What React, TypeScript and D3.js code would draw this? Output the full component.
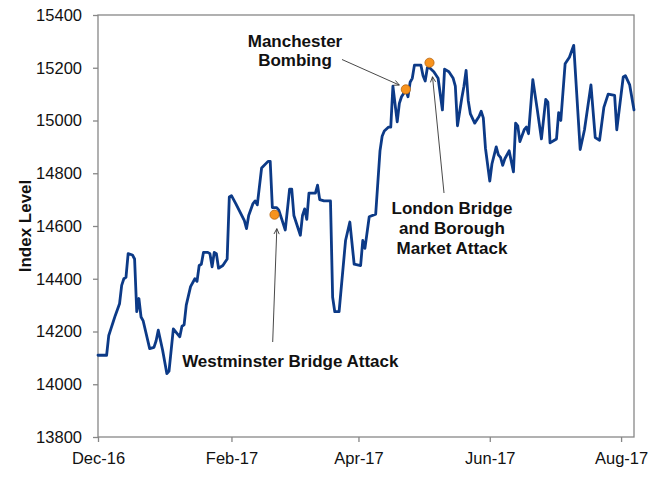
import { useEffect, useRef } from "react";
import * as d3 from "d3";

// index level (calendar days, gaps = straight segments)
const dates = [
  "2016-12-01", "2016-12-05", "2016-12-06", "2016-12-07", "2016-12-08", "2016-12-09", "2016-12-11", "2016-12-12",
  "2016-12-13", "2016-12-14", "2016-12-15", "2016-12-17", "2016-12-18", "2016-12-19", "2016-12-20", "2016-12-21",
  "2016-12-22", "2016-12-25", "2016-12-27", "2016-12-28", "2016-12-29", "2016-12-31", "2017-01-02", "2017-01-03",
  "2017-01-05", "2017-01-08", "2017-01-09", "2017-01-10", "2017-01-11", "2017-01-13", "2017-01-15", "2017-01-16",
  "2017-01-17", "2017-01-18", "2017-01-19", "2017-01-21", "2017-01-22", "2017-01-23", "2017-01-24", "2017-01-25",
  "2017-01-26", "2017-01-28", "2017-01-30", "2017-01-31", "2017-02-01", "2017-02-03", "2017-02-07", "2017-02-08",
  "2017-02-09", "2017-02-11", "2017-02-12", "2017-02-13", "2017-02-14", "2017-02-15", "2017-02-18", "2017-02-19",
  "2017-02-20", "2017-02-22", "2017-02-23", "2017-02-26", "2017-02-28", "2017-03-01", "2017-03-02", "2017-03-05",
  "2017-03-06", "2017-03-07", "2017-03-08", "2017-03-09", "2017-03-12", "2017-03-13", "2017-03-14", "2017-03-16",
  "2017-03-19", "2017-03-20", "2017-03-21", "2017-03-23", "2017-03-26", "2017-03-28", "2017-03-30", "2017-04-02",
  "2017-04-03", "2017-04-04", "2017-04-06", "2017-04-09", "2017-04-10", "2017-04-11", "2017-04-12", "2017-04-13",
  "2017-04-15", "2017-04-16", "2017-04-17", "2017-04-19", "2017-04-20", "2017-04-21", "2017-04-23", "2017-04-24",
  "2017-04-25", "2017-04-26", "2017-04-27", "2017-04-30", "2017-05-01", "2017-05-02", "2017-05-03", "2017-05-04",
  "2017-05-06", "2017-05-08", "2017-05-10", "2017-05-11", "2017-05-13", "2017-05-15", "2017-05-16", "2017-05-17",
  "2017-05-19", "2017-05-20", "2017-05-21", "2017-05-22", "2017-05-23", "2017-05-25", "2017-05-27", "2017-05-28",
  "2017-05-29", "2017-05-30", "2017-06-01", "2017-06-02", "2017-06-04", "2017-06-05", "2017-06-06", "2017-06-07",
  "2017-06-08", "2017-06-10", "2017-06-12", "2017-06-13", "2017-06-14", "2017-06-15", "2017-06-17", "2017-06-18",
  "2017-06-19", "2017-06-21", "2017-06-23", "2017-06-25", "2017-06-27", "2017-06-28", "2017-06-29", "2017-07-01",
  "2017-07-02", "2017-07-03", "2017-07-04", "2017-07-06", "2017-07-08", "2017-07-10", "2017-07-13", "2017-07-15",
  "2017-07-18", "2017-07-20", "2017-07-22", "2017-07-24", "2017-07-26", "2017-07-29", "2017-07-30", "2017-08-02",
  "2017-08-03", "2017-08-05", "2017-08-07",
];
const index = [
  14110, 14110, 14185, 14210, 14235, 14260, 14305, 14375,
  14400, 14405, 14495, 14490, 14475, 14275, 14325, 14255,
  14240, 14135, 14140, 14165, 14205, 14130, 14040, 14050,
  14210, 14180, 14220, 14225, 14300, 14370, 14400, 14390,
  14450, 14455, 14500, 14500, 14495, 14445, 14500, 14495,
  14440, 14450, 14475, 14710, 14715, 14685, 14620, 14590,
  14640, 14685, 14695, 14680, 14750, 14820, 14845, 14845,
  14670, 14670, 14660, 14585, 14740, 14740, 14640, 14565,
  14640, 14665, 14625, 14725, 14725, 14755, 14700, 14695,
  14695, 14330, 14275, 14275, 14545, 14615, 14455, 14450,
  14545, 14515, 14635, 14645, 14765, 14885, 14940, 14960,
  14975, 14975, 15130, 14995, 15065, 15090, 15115, 15090,
  15145, 15160, 15210, 15210, 15170, 15150, 15200, 15200,
  15185, 15160, 15040, 15195, 15185, 15160, 15130, 14980,
  15085, 15130, 15190, 15075, 15025, 14990, 15015, 15035,
  15010, 14895, 14770, 14835, 14900, 14870, 14860, 14830,
  14855, 14885, 14805, 14990, 14980, 14920, 14965, 14975,
  14950, 15155, 15045, 14930, 15080, 15070, 14915, 14925,
  14930, 15030, 15000, 15215, 15240, 15285, 14890, 14965,
  15135, 14935, 14925, 15050, 15100, 15095, 14965, 15165,
  15170, 15135, 15040,
];

const xDomain = ["2016-12-01", "2017-08-07"];
const xTickDates = ["2016-12-01", "2017-02-01", "2017-04-01", "2017-06-01", "2017-08-01"];
const xTickLabels = ["Dec-16", "Feb-17", "Apr-17", "Jun-17", "Aug-17"];
const yTicks = [13800, 14000, 14200, 14400, 14600, 14800, 15000, 15200, 15400];

// marked events
const eventLabels = [
  ["Westminster Bridge Attack"],
  ["Manchester", "Bombing"],
  ["London Bridge", "and Borough", "Market Attack"],
];
const eventDates = ["2017-02-21", "2017-04-23", "2017-05-04"];
const eventValues = [14643, 15118, 15219];

const FONT = "'Liberation Sans', Arial, Helvetica, sans-serif";

export default function App() {
  const ref = useRef<SVGSVGElement>(null);

  useEffect(() => {
    const el = ref.current;
    if (!el) return;
    const W = 650, H = 483, M = { top: 15, right: 16, bottom: 46, left: 98 };
    const svg = d3.select(el);
    svg.selectAll("*").remove();

    const parse = d3.timeParse("%Y-%m-%d");
    const x = d3.scaleTime().domain(xDomain.map((d) => parse(d)!)).range([M.left, W - M.right]);
    const y = d3.scaleLinear().domain([yTicks[0], yTicks[yTicks.length - 1]]).range([H - M.bottom, M.top]);
    const axisColor = "#878787";

    // frame
    svg.append("rect")
      .attr("x", M.left).attr("y", M.top).attr("width", W - M.left - M.right).attr("height", H - M.top - M.bottom)
      .attr("fill", "none").attr("stroke", axisColor).attr("stroke-width", 1.3);

    // y axis
    const gy = svg.append("g").attr("transform", `translate(${M.left},0)`)
      .call(d3.axisLeft(y).tickValues(yTicks).tickSize(5).tickPadding(11).tickFormat((d) => String(d)));
    gy.select(".domain").remove();
    gy.selectAll("line").attr("stroke", axisColor).attr("stroke-width", 1.3);
    gy.selectAll("text").attr("font-family", FONT).attr("font-size", 16.5).attr("fill", "#111");

    // x axis
    const tickDates = xTickDates.map((d) => parse(d)!);
    const gx = svg.append("g").attr("transform", `translate(0,${H - M.bottom})`)
      .call(d3.axisBottom(x).tickValues(tickDates).tickSize(5).tickPadding(10)
        .tickFormat((_d, i) => xTickLabels[i]));
    gx.select(".domain").remove();
    gx.selectAll("line").attr("stroke", axisColor).attr("stroke-width", 1.3);
    gx.selectAll("text").attr("font-family", FONT).attr("font-size", 16.5).attr("fill", "#111");

    // y title
    svg.append("text")
      .attr("transform", `translate(30.5,${(M.top + H - M.bottom) / 2}) rotate(-90)`)
      .attr("text-anchor", "middle").attr("font-family", FONT).attr("font-size", 17).attr("font-weight", "bold")
      .attr("fill", "#111").text("Index Level");

    // series
    const pts = dates.map((d, i) => ({ d: parse(d)!, v: index[i] }));
    const line = d3.line<{ d: Date; v: number }>().x((p) => x(p.d)).y((p) => y(p.v));
    svg.append("path").datum(pts).attr("d", line)
      .attr("fill", "none").attr("stroke", "#0c3a87").attr("stroke-width", 2.8)
      .attr("stroke-linejoin", "round").attr("stroke-linecap", "round");

    // annotation arrows: start point, and tip offset from the event dot
    const arrows = [
      { sx: 272.7, sy: 342, dx: 2.3, dy: 14 },
      { sx: 342, sy: 59.5, dx: -6.5, dy: -4.3 },
      { sx: 444, sy: 193, dx: 3, dy: 14 },
    ];
    const ev = eventDates.map((d, i) => ({ cx: x(parse(d)!), cy: y(eventValues[i]) }));
    arrows.forEach((a, i) => {
      const tx = ev[i].cx + a.dx, ty = ev[i].cy + a.dy;
      svg.append("line").attr("x1", a.sx).attr("y1", a.sy).attr("x2", tx).attr("y2", ty)
        .attr("stroke", "#333").attr("stroke-width", 0.9);
      const ang = Math.atan2(ty - a.sy, tx - a.sx);
      const L = 6, spread = 0.45;
      const p1 = [tx - L * Math.cos(ang - spread), ty - L * Math.sin(ang - spread)];
      const p2 = [tx - L * Math.cos(ang + spread), ty - L * Math.sin(ang + spread)];
      svg.append("polyline").attr("points", `${p1.join(",")} ${tx},${ty} ${p2.join(",")}`)
        .attr("fill", "none").attr("stroke", "#333").attr("stroke-width", 0.9);
    });

    // event dots
    svg.append("g").selectAll("circle").data(ev).join("circle")
      .attr("cx", (p) => p.cx).attr("cy", (p) => p.cy).attr("r", 4.6)
      .attr("fill", "#f7931e").attr("stroke", "#b8640f").attr("stroke-width", 0.8);

    // event labels
    const labelPos = [
      { x: 290.3, y: 367, lh: 20 },
      { x: 295, y: 47, lh: 19 },
      { x: 452, y: 214, lh: 20 },
    ];
    eventLabels.forEach((lines, i) => {
      const t = svg.append("text").attr("text-anchor", "middle").attr("font-family", FONT)
        .attr("font-size", 17).attr("font-weight", "bold").attr("fill", "#111");
      lines.forEach((s, j) => {
        t.append("tspan").attr("x", labelPos[i].x).attr("y", labelPos[i].y + j * labelPos[i].lh).text(s);
      });
    });
  }, []);

  return (
    <svg ref={ref} width={650} height={483}
      style={{ position: "absolute", left: 0, top: 0, background: "#fff" }} />
  );
}
